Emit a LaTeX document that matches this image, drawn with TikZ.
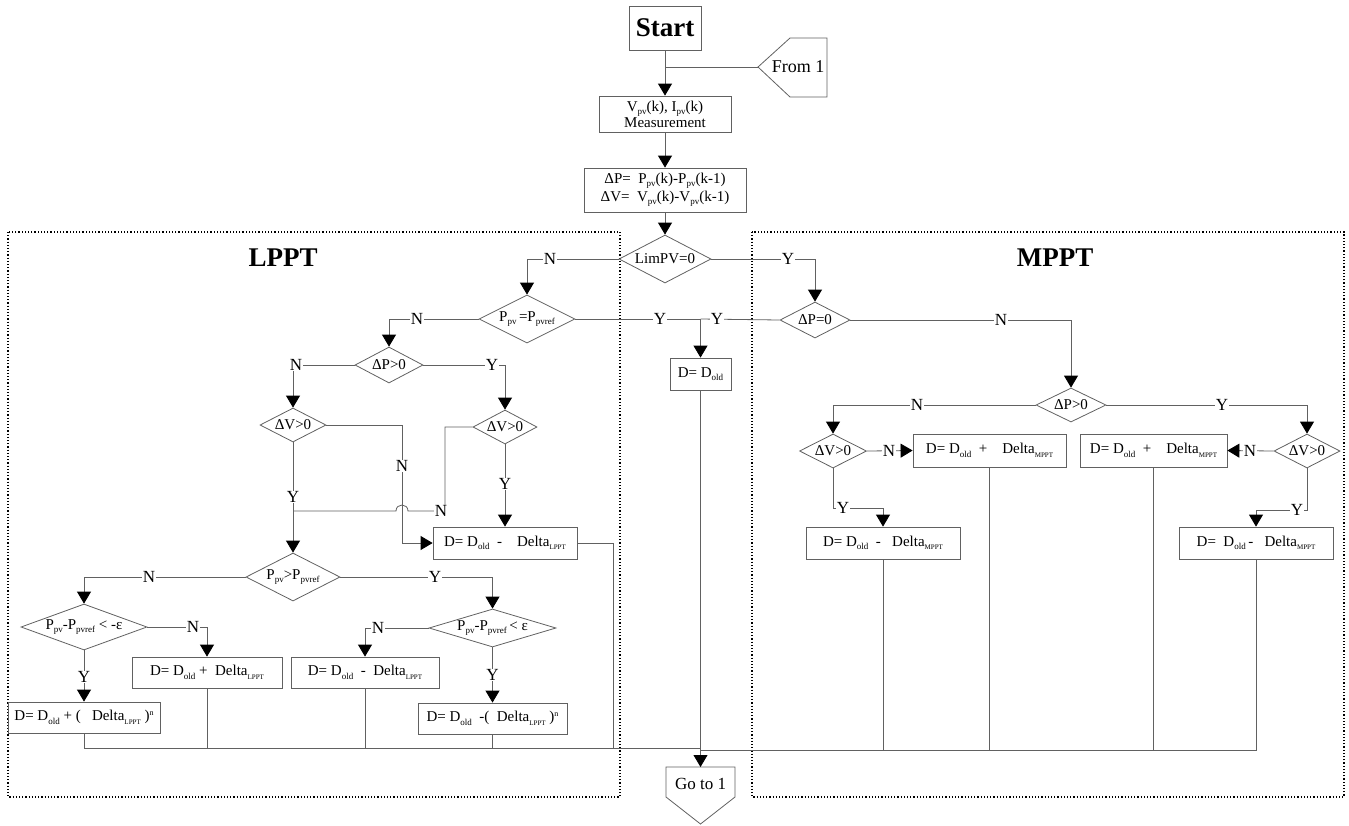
\documentclass[tikz,border=0pt]{standalone}
\usepackage{fontspec}
\setmainfont{Liberation Serif}
\usetikzlibrary{shapes.geometric,arrows.meta}
\newcommand\lowtxt[1]{\raisebox{-0.45ex}{\fontsize{9}{9}\selectfont #1}}
\newcommand\lowcap[1]{\raisebox{-0.5ex}{\fontsize{7}{7}\selectfont #1}}
\newcommand\uptxt[1]{\raisebox{0.85ex}{\fontsize{8}{8}\selectfont #1}}
\begin{document}
\begin{tikzpicture}[
  x=1pt, y=-1pt,
  base/.style={font=\fontsize{15}{17}\selectfont},
  procbox/.style 2 args={base, draw=black!62, line width=0.8pt, rectangle, inner sep=0pt, minimum width=#1, minimum height=#2},
  dia/.style n args={3}{base, draw=black!62, line width=0.8pt, diamond, inner sep=0pt, minimum width=#1, minimum height=#2, aspect=#3},
  tight/.style={inner xsep=-8pt},
  lbl/.style={font=\fontsize{17}{17}\selectfont, fill=white, inner sep=0.6pt},
  conn/.style={draw=black!62, line width=0.8pt},
  arr/.style={conn, -{Triangle[width=14pt,length=12pt,color=black]}},
  region/.style={draw=black, line width=1.2pt, dash pattern=on 1.2pt off 2pt},
  title/.style={font=\fontsize{27}{27}\selectfont\bfseries},
]
\useasboundingbox (0,0) rectangle (1349,825);

% regions
\draw[region] (8,232) rectangle (620,797);
\draw[region] (752,232) rectangle (1344,797);
\node[title] (tL) at (283,258) {LPPT};
\node[title] (tM) at (1055,258) {MPPT};

% top column
\node[procbox={72}{44}, font=\fontsize{27}{27}\selectfont\bfseries] (start) at (665,28) {Start};
\node[procbox={132}{36}, align=center, font=\fontsize{15}{16}\selectfont] (meas) at (665,114) {V\lowtxt{pv}(k), I\lowtxt{pv}(k)\\Measurement};
\node[procbox={162}{44}, align=center, font=\fontsize{15}{18}\selectfont] (dlt) at (665,190) {ΔP=\ \ P\lowtxt{pv}(k)-P\lowtxt{pv}(k-1)\\ΔV=\ \ V\lowtxt{pv}(k)-V\lowtxt{pv}(k-1)};
\node[dia={92}{48}{1.92}] (limpv) at (665,259) {LimPV=0};

% From 1 / Go to 1
\draw[conn] (758,67) -- (790,38) -- (827,38) -- (827,97) -- (790,97) -- cycle;
\coordinate (f1) at (758,67);
\node[font=\fontsize{18}{18}\selectfont] (from1) at (798,67) {From 1};
\draw[conn] (666,767) -- (735,767) -- (735,797) -- (700.5,824) -- (666,797) -- cycle;
\coordinate (g1) at (700.5,767);
\node[font=\fontsize{17}{17}\selectfont] (goto1) at (700.5,784) {Go to 1};

% LPPT nodes
\node[dia={96}{48}{2}] (peq) at (527,319) {P\lowtxt{pv}\,=P\lowtxt{pvref}};
\node[procbox={61}{32}] (dold) at (700.5,374) {D=\ D\lowtxt{old}};
\node[dia={70}{36}{1.94}] (dp0) at (815,320) {ΔP=0};
\node[dia={68}{36}{1.89}] (dpL) at (389,365) {ΔP>0};
\node[dia={66}{34}{1.94}] (dvL) at (293,425) {ΔV>0};
\node[dia={64}{34}{1.88}] (dvR) at (505,427) {ΔV>0};
\node[procbox={144}{32}] (bL1) at (505,543) {D=\ D\lowtxt{old}\ \ -\ \ \ \ Delta\lowcap{LPPT}};
\node[dia={94}{48}{1.96}] (pgt) at (293,577) {P\lowtxt{pv}>P\lowtxt{pvref}};
\node[dia={126}{46}{2.74}, tight] (pneg) at (84,627) {P\lowtxt{pv}-P\lowtxt{pvref}\ <\ -ε};
\node[dia={127}{38}{3.34}, tight] (ppos) at (492.5,628) {P\lowtxt{pv}-P\lowtxt{pvref}\,<\ ε};
\node[procbox={152}{31}] (bL2) at (84,717.5) {D=\ D\lowtxt{old}\ +\ (\ \ \ Delta\lowcap{LPPT}\ )\uptxt{n}};
\node[procbox={150}{31}] (bL3) at (207,672.5) {D=\ D\lowtxt{old}\ +\ \ Delta\lowcap{LPPT}};
\node[procbox={148}{31}] (bL4) at (365,672.5) {D=\ D\lowtxt{old}\ \ -\ \ Delta\lowcap{LPPT}};
\node[procbox={149}{31}] (bL5) at (492.5,718.5) {D=\ D\lowtxt{old}\ \ -(\ \ Delta\lowcap{LPPT}\ )\uptxt{n}};

% MPPT nodes
\node[dia={70}{34}{2.06}] (dpM) at (1071,405) {ΔP>0};
\node[dia={67}{34}{1.97}] (dvML) at (833,451) {ΔV>0};
\node[dia={66}{34}{1.94}] (dvMR) at (1307,451) {ΔV>0};
\node[procbox={153}{33}] (bM1) at (989.5,450.5) {D=\ D\lowtxt{old}\ \ +\ \ \ \ Delta\lowcap{MPPT}};
\node[procbox={147}{33}] (bM2) at (1153.5,450.5) {D=\ D\lowtxt{old}\ \ +\ \ \ \ Delta\lowcap{MPPT}};
\node[procbox={154}{32}] (bM3) at (883,543) {D=\ D\lowtxt{old}\ \ -\ \ \ Delta\lowcap{MPPT}};
\node[procbox={154}{32}] (bM4) at (1256,543) {D=\ \ D\lowtxt{old}\,-\ \ \ Delta\lowcap{MPPT}};

% connectors top
\coordinate (j0) at (665,67);
\draw[arr] (start.south) -- (meas.north);
\draw[conn] (f1) -- (j0);
\draw[arr] (meas.south) -- (dlt.north);
\draw[arr] (dlt.south) -- (limpv.north);
\draw[arr] (limpv.west) -| (peq.north);
\draw[arr] (limpv.east) -| (dp0.north);
\coordinate (jY) at (700.5,319);
\draw[conn] (peq.east) -- (jY);
\draw[conn] (dp0.west) -- (jY);
\draw[arr] (jY) -- (dold.north);

% LPPT connectors
\draw[arr] (peq.west) -| (dpL.north);
\draw[arr] (dpL.west) -| (dvL.north);
\draw[arr] (dpL.east) -| (dvR.north);
\coordinate (cN1) at (402,543);
\draw[arr] (dvL.east) -| (cN1) -- (bL1.west);
\coordinate (cN2) at (445,511);
\coordinate (jL) at (293,511);
\draw[conn] (dvR.west) -| (cN2) -- (408,511) .. controls (408,503) and (396,503) .. (396,511) -- (jL);
\draw[arr] (dvL.south) -- (pgt.north);
\draw[arr] (dvR.south) -- (bL1.north);
\coordinate (cR) at (613,748);
\draw[conn] (bL1.east) -| (cR);
\draw[arr] (pgt.west) -| (pneg.north);
\draw[arr] (pgt.east) -| (ppos.north);
\draw[arr] (pneg.east) -| (bL3.north);
\draw[arr] (pneg.south) -- (bL2.north);
\draw[arr] (ppos.west) -| (bL4.north);
\draw[arr] (ppos.south) -- (bL5.north);

% bottom collection
\coordinate (jB) at (700.5,748);
\draw[conn] (bL2.south) |- (jB);
\foreach \n in {bL3,bL4,bL5} \draw[conn] (\n.south) -- (\n.south |- jB);
\draw[arr] (dold.south) -- (g1);
\coordinate (jB2) at (700.5,750);
\draw[conn] (bM4.south) |- (jB2);
\foreach \n in {bM1,bM2,bM3} \draw[conn] (\n.south) -- (\n.south |- jB2);

% MPPT connectors
\draw[arr] (dp0.east) -| (dpM.north);
\draw[arr] (dpM.west) -| (dvML.north);
\draw[arr] (dpM.east) -| (dvMR.north);
\draw[arr] (dvML.east) -- (bM1.west);
\draw[arr] (dvMR.west) -- (bM2.east);
\coordinate (cY1) at (883,508);
\draw[arr] (dvML.south) |- (cY1) -- (bM3.north);
\coordinate (cY2) at (1256,510);
\draw[arr] (dvMR.south) |- (cY2) -- (bM4.north);

% labels
\node[lbl] (l1) at (550,259) {N};
\node[lbl] (l2) at (788,259) {Y};
\node[lbl] (l3) at (660,319) {Y};
\node[lbl] (l4) at (717,319) {Y};
\node[lbl] (l5) at (417,319) {N};
\node[lbl] (l6) at (296,365) {N};
\node[lbl] (l7) at (492,365) {Y};
\node[lbl] (l8) at (402,466) {N};
\node[lbl] (l9) at (441,511) {N};
\node[lbl] (l10) at (293,497) {Y};
\node[lbl] (l11) at (505,484) {Y};
\node[lbl] (l12) at (149,577) {N};
\node[lbl] (l13) at (435,577) {Y};
\node[lbl] (l14) at (193,627) {N};
\node[lbl] (l15) at (84,677) {Y};
\node[lbl] (l16) at (378,628) {N};
\node[lbl] (l17) at (492.5,675) {Y};
\node[lbl] (l18) at (1001,320) {N};
\node[lbl] (l19) at (917,405) {N};
\node[lbl] (l20) at (1222,405) {Y};
\node[lbl] (l21) at (889,451) {N};
\node[lbl] (l22) at (1250,451) {N};
\node[lbl] (l23) at (843,508) {Y};
\node[lbl] (l24) at (1297,510) {Y};
\end{tikzpicture}
\end{document}
